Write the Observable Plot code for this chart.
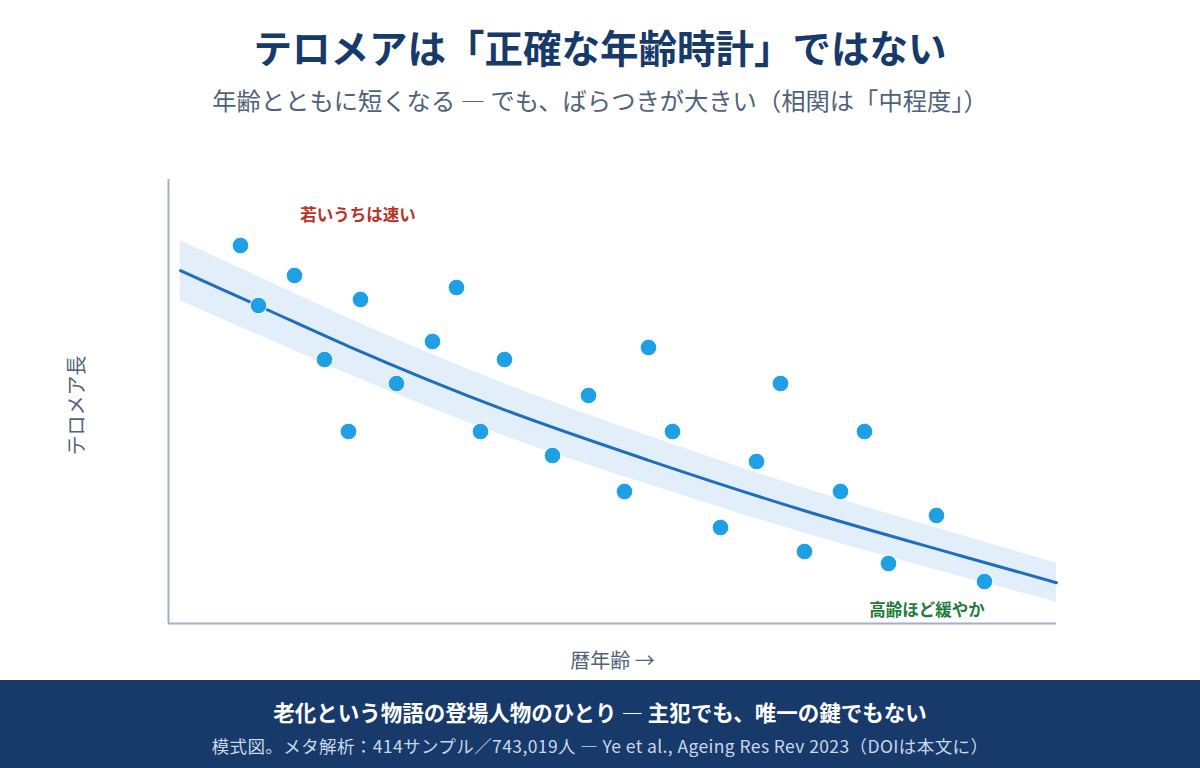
<!DOCTYPE html>
<html lang="ja">
<head>
<meta charset="utf-8">
<script src="https://cdn.jsdelivr.net/npm/d3@7"></script>
<script src="https://cdn.jsdelivr.net/npm/@observablehq/plot@0.6"></script>
<style>
  html, body { margin: 0; padding: 0; background: #ffffff; }
  body { width: 1200px; height: 768px; overflow: hidden; font-family: "Noto Sans CJK JP", "Noto Sans", sans-serif; }
  #head { position: relative; height: 130px; }
  .t { position: absolute; left: 0; width: 100%; text-align: center; transform: translateY(-50%); white-space: nowrap; }
  #title { top: 46px; font-size: 38.5px; font-weight: 700; color: #173a6b; }
  #subtitle { top: 99px; font-size: 24.3px; font-weight: 400; color: #4f6279; }
  #chart { height: 550px; }
  #chart svg { display: block; }
  #foot { position: relative; height: 88px; background: #173a6b; }
  #foot-main { top: 31px; font-size: 21.5px; font-weight: 700; color: #ffffff; }
  #foot-note { top: 65px; font-size: 17.5px; letter-spacing: 0.4px; font-weight: 400; color: #c9d7ea; }
</style>
</head>
<body>
<div id="head">
  <div class="t" id="title">テロメアは「正確な年齢時計」ではない</div>
  <div class="t" id="subtitle">年齢とともに短くなる — でも、ばらつきが大きい（相関は「中程度」）</div>
</div>
<div id="chart"></div>
<div id="foot">
  <div class="t" id="foot-main">老化という物語の登場人物のひとり — 主犯でも、唯一の鍵でもない</div>
  <div class="t" id="foot-note">模式図。メタ解析：414サンプル／743,019人 — Ye et al., Ageing Res Rev 2023（DOIは本文に）</div>
</div>
<script>
// Individual samples: chronological age (years) and telomere length (kb)
const sampleAge    = [26, 27.5, 30.5, 33, 35, 36, 39, 42, 44, 46, 48, 52, 55, 58, 60, 62, 66, 69, 71, 73, 76, 78, 80, 84, 88];
const sampleLength = [10.3, 9.3, 9.8, 8.4, 7.2, 9.4, 8.0, 8.7, 9.6, 7.2, 8.4, 6.8, 7.8, 6.2, 8.6, 7.2, 5.6, 6.7, 8.0, 5.2, 6.2, 7.2, 5.0, 5.8, 4.7];

// Fitted trend and the half-width of its uncertainty band
const fitAge  = [21, 28, 35, 48, 60, 73, 86, 94];
const fitLen  = [9.88, 9.25, 8.62, 7.56, 6.72, 5.88, 5.13, 4.68];
const fitHalf = [0.5, 0.483, 0.466, 0.435, 0.405, 0.375, 0.345, 0.325];

// Annotations placed in data space
const noteText  = ["若いうちは速い", "高齢ほど緩やか"];
const noteAge   = [35.8, 83.2];
const noteLen   = [10.8, 4.22];
const noteColor = ["#b8322a", "#237a3b"];

const xLabel = "暦年齢 →";
const yLabel = "テロメア長";

const samples = sampleAge.map((a, i) => ({age: a, len: sampleLength[i]}));
const fit = fitAge.map((a, i) => ({age: a, len: fitLen[i], lo: fitLen[i] - fitHalf[i], hi: fitLen[i] + fitHalf[i]}));
const notes = noteText.map((t, i) => ({text: t, age: noteAge[i], len: noteLen[i], color: noteColor[i]}));

const font = "'Noto Sans CJK JP', 'Noto Sans', sans-serif";

const chart = Plot.plot({
  width: 1200,
  height: 550,
  marginLeft: 168,
  marginRight: 144,
  marginTop: 49,
  marginBottom: 57,
  style: {fontFamily: font, background: "transparent"},
  x: {domain: [20, 94], axis: null},
  y: {domain: [4, 11.4], axis: null},
  marks: [
    Plot.areaY(fit, {x: "age", y1: "lo", y2: "hi", fill: "#e2effa", curve: "monotone-x"}),
    Plot.lineY(fit, {x: "age", y: "len", stroke: "#1f6dbd", strokeWidth: 3, curve: "monotone-x"}),
    Plot.ruleX([20], {stroke: "#9fb2c7", strokeWidth: 2}),
    Plot.ruleY([4], {stroke: "#9fb2c7", strokeWidth: 2}),
    Plot.dot(samples, {x: "age", y: "len", r: 8.3, fill: "#1fa0e4", stroke: "#ffffff", strokeWidth: 1}),
    Plot.text(notes, {x: "age", y: "len", text: "text", fill: "color", fontSize: 16.5, fontWeight: 700}),
    Plot.text([yLabel], {frameAnchor: "left", textAnchor: "middle", lineAnchor: "middle", dx: -91, dy: 4, rotate: -90, fontSize: 20, fill: "#4f6279"}),
    Plot.text([xLabel], {frameAnchor: "bottom", textAnchor: "middle", lineAnchor: "middle", dy: 38, fontSize: 20, fill: "#4f6279"})
  ]
});
document.getElementById("chart").appendChild(chart);
</script>
</body>
</html>
